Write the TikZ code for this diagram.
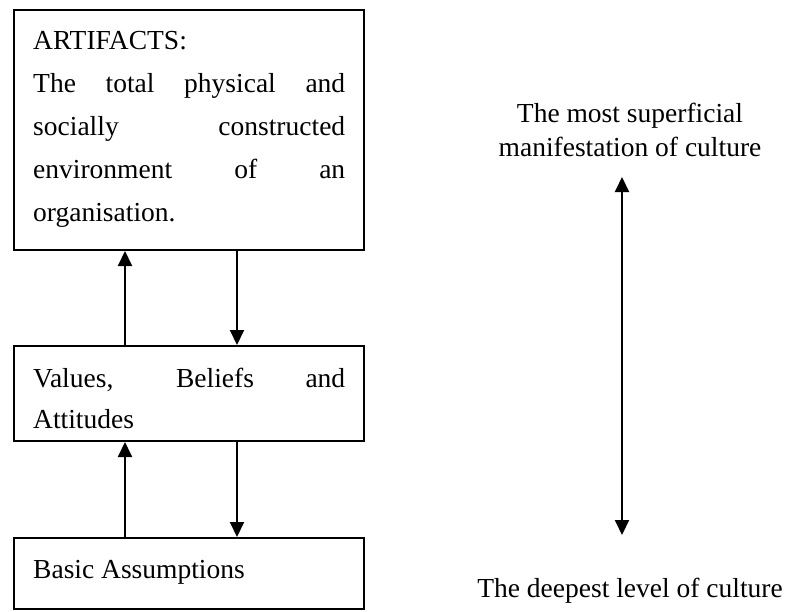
\documentclass[tikz,border=0pt]{standalone}
\usepackage{fontspec}
\setmainfont{Liberation Serif}
\usetikzlibrary{arrows.meta}

\begin{document}
\begin{tikzpicture}[x=1pt,y=-1pt,
  box/.style={draw=black, line width=2pt, rectangle, inner sep=0pt, minimum width=350pt},
  boxtext/.style={anchor=north west, inner sep=0pt, align=left},
  sidetext/.style={inner sep=0pt, align=center, font=\fontsize{27.5}{34}\selectfont},
  tip/.style={Triangle[length=15pt,width=14pt]},
  link/.style={line width=2pt, -{Triangle[length=15pt,width=14pt]}},
  scale link/.style={line width=2pt, {Triangle[length=15pt,width=14pt]}-{Triangle[length=15pt,width=14pt]}}
]
\useasboundingbox (0,0) rectangle (790,611);

% the three layers
\node[box, minimum height=240.5pt] (b1) at (189,129.75) {};
\node[box, minimum height=95pt] (b2) at (189,393.5) {};
\node[box, minimum height=71pt] (b3) at (189,573.5) {};

\node[boxtext, font=\fontsize{27.5}{43}\selectfont] (t1) at (33,31.5)
  {ARTIFACTS:\\
   \makebox[312pt][s]{The total physical and}\\
   \makebox[312pt][s]{socially constructed}\\
   \makebox[312pt][s]{environment of an}\\
   organisation.};
\node[boxtext, font=\fontsize{27.5}{41}\selectfont] (t2) at (33,368.2)
  {\makebox[312pt][s]{Values, Beliefs and}\\Attitudes};
\node[boxtext, font=\fontsize{27.5}{41}\selectfont] (t3) at (33,559.8)
  {Basic Assumptions};

% links between layers
\coordinate (up) at (125,0);
\coordinate (down) at (237,0);
\draw[link] (up |- b2.north) -- (up |- b1.south);
\draw[link] (down |- b1.south) -- (down |- b2.north);
\draw[link] (up |- b3.north) -- (up |- b2.south);
\draw[link] (down |- b2.south) -- (down |- b3.north);

% depth scale
\node[sidetext, anchor=north] (sup) at (630,103)
  {The most superficial\\manifestation of culture};
\node[sidetext, anchor=base] (deep) at (630,597)
  {The deepest level of culture};
\coordinate (stop) at (622,177);
\coordinate (sbot) at (622,535);
\draw[scale link] (stop) -- (sbot);
\end{tikzpicture}
\end{document}
